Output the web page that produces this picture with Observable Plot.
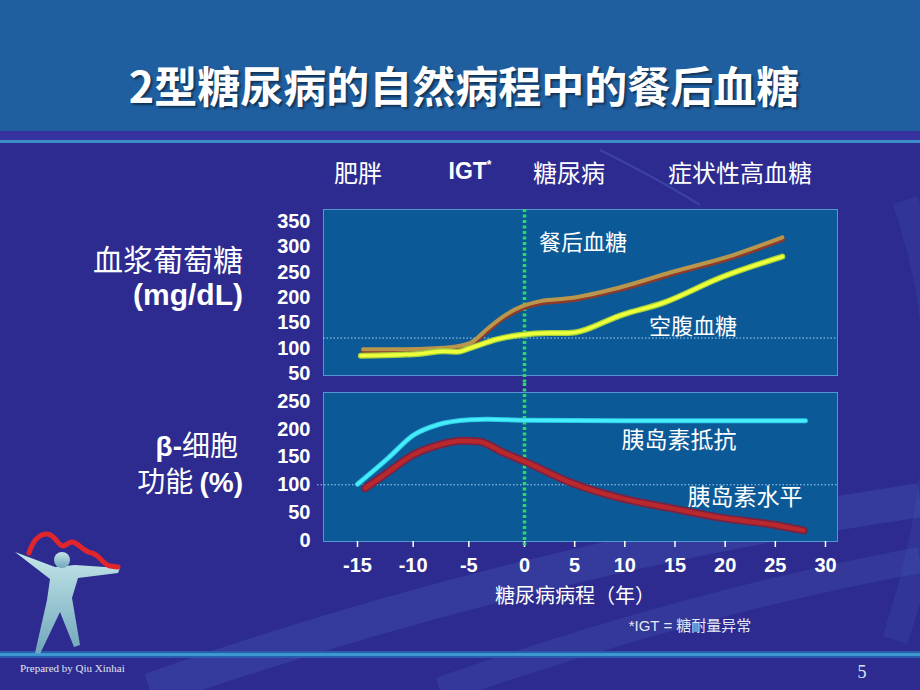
<!DOCTYPE html>
<html><head><meta charset="utf-8">
<script src="https://cdn.jsdelivr.net/npm/d3@7"></script>
<script src="https://cdn.jsdelivr.net/npm/@observablehq/plot@0.6"></script>
<style>
body{margin:0;background:#2d2b8f;}
#slide{position:relative;width:920px;height:690px;overflow:hidden;background:#2d2b8f;font-family:"Noto Sans CJK SC","Noto Sans",sans-serif;color:#fff;}
.abs{position:absolute;white-space:nowrap;line-height:1;}
.plotwrap{position:absolute;left:0;}
</style></head><body><div id="slide"></div>
<script>
// ---------- data ----------
const xTicks = [-15, -10, -5, 0, 5, 10, 15, 20, 25, 30];
const topTicks = [50, 100, 150, 200, 250, 300, 350];
const bottomTicks = [0, 50, 100, 150, 200, 250];
const fastingThreshold = 120;
const betaBaseline = 100;
const diagnosisYear = 0;

// postprandial glucose (mg/dL)
const ppYears  = [-14.5, -11, -8, -6, -4.8, -3.3, -1.9, -0.3, 1.6, 4.6, 9.3, 14.6, 20.8, 25.7];
const ppValues = [97, 97, 99, 103, 110, 138, 162, 181, 192, 198, 218, 249, 283, 318];
// fasting glucose (mg/dL)
const fpYears  = [-14.7, -11, -9.3, -7.3, -6, -4.9, -2.4, -0.4, 2.3, 4.3, 9.9, 13.9, 19.5, 25.7];
const fpValues = [85, 87, 89, 94, 93, 100, 118, 126, 130, 130, 167, 190, 239, 281];
// insulin resistance (%)
const irYears  = [-15, -12.3, -10, -7.8, -4.9, -3.3, 0, 10, 20, 28];
const irValues = [101, 147, 189, 208, 217, 218, 216, 215, 215, 215];
// insulin level (%)
const ilYears  = [-14.3, -12.3, -10, -7.8, -5.5, -4.1, -1.9, 0, 4.6, 9.6, 14.6, 19.5, 24.5, 27.8];
const ilValues = [94, 122, 154, 171, 179, 178, 158, 142, 104, 76, 58, 41, 29, 18];

const stageLabels = ["肥胖", "IGT", "糖尿病", "症状性高血糖"];

// ---------- build ----------
const zip = (xs, ys) => xs.map((x, i) => ({x, y: ys[i]}));
const pp = zip(ppYears, ppValues), fp = zip(fpYears, fpValues);
const ir = zip(irYears, irValues), il = zip(ilYears, ilValues);

const slide = document.getElementById("slide");
const NS = "http://www.w3.org/2000/svg";

// background decorations
const bg = document.createElementNS(NS, "svg");
bg.setAttribute("width", 920); bg.setAttribute("height", 690);
bg.style.position = "absolute"; bg.style.left = "0"; bg.style.top = "0";
bg.innerHTML = `
  <path d="M150,690 Q520,560 920,500" fill="none" stroke="#4a6cc4" stroke-opacity="0.26" stroke-width="34"/>
  <path d="M440,690 Q700,600 920,560" fill="none" stroke="#4a6cc4" stroke-opacity="0.2" stroke-width="26"/>
  <path d="M905,200 Q975,400 895,640" fill="none" stroke="#4a6cc4" stroke-opacity="0.16" stroke-width="26"/>
  <path d="M600,150 Q660,180 700,205" fill="none" stroke="#5a7ad0" stroke-opacity="0.3" stroke-width="2"/>
  <rect x="0" y="0" width="920" height="131" fill="#1f5e9f"/>
  <rect x="0" y="131" width="920" height="9" fill="#3632a0"/>
  <rect x="0" y="140" width="920" height="3" fill="#3b8dc9"/>
  <rect x="0" y="651" width="920" height="7" fill="#2a5cae"/>
  <rect x="0" y="653" width="920" height="3" fill="#3f97cf"/>
  <defs><linearGradient id="fig" x1="0" y1="0" x2="0" y2="1">
    <stop offset="0" stop-color="#c4e6e8"/><stop offset="1" stop-color="#6fa6bb"/></linearGradient></defs>
  <path d="M15,552 L55,567 L75,565 L120,568 L118,573 L78,578 L72,598 L80,645 L74,647 L60,612 L40,654 L35,653 L47,600 L50,579 Z" fill="url(#fig)"/>
  <circle cx="62" cy="560" r="8" fill="url(#fig)"/>
  <path d="M29,553 C33,540 40,534 47,534 C55,534 58,546 63,546 C67,546 68,541 73,542 C80,544 83,552 92,553 C100,555 103,565 110,566 L118,567" fill="none" stroke="#e0262a" stroke-width="5" stroke-linecap="round"/>
`;
slide.appendChild(bg);

const baseStyle = {background: "transparent", color: "#fff", fontFamily: "'Liberation Sans', Arial, sans-serif", fontSize: "20px", fontWeight: "bold", overflow: "visible"};
const xScale = {type: "linear", domain: [-15, diagnosisYear, 30], range: [357, 524, 825]};
const CURVE = "monotone-x";
const greenRule = {stroke: "#2fd86a", strokeWidth: 3.5, strokeDasharray: "3,2.5"};

const topPlot = Plot.plot({
  width: 920, height: 180, marginLeft: 323, marginRight: 83, marginTop: 9, marginBottom: 5,
  style: baseStyle,
  x: {...xScale, axis: null},
  y: {domain: [46, 374], axis: null},
  marks: [
    Plot.frame({fill: "#0b5a97", stroke: "#5596d2", strokeWidth: 1}),
    Plot.axisY(topTicks, {tickSize: 0, tickPadding: 13, label: null, fontWeight: "bold", fontSize: 20}),
    Plot.ruleY([fastingThreshold], {stroke: "#a8d4ff", strokeWidth: 1, strokeDasharray: "1.5,2"}),
    Plot.ruleX([diagnosisYear], {...greenRule, insetBottom: -9}),
    Plot.line(pp, {x: "x", y: "y", stroke: "#8d3a2c", strokeWidth: 5, curve: CURVE, dy: 1.5}),
    Plot.line(pp, {x: "x", y: "y", stroke: "#b9964c", strokeWidth: 4, curve: CURVE, dy: -0.5}),
    Plot.line(fp, {x: "x", y: "y", stroke: "#a6d03a", strokeWidth: 6, curve: CURVE}),
    Plot.line(fp, {x: "x", y: "y", stroke: "#eeff3c", strokeWidth: 3.5, curve: CURVE})
  ]
});

const bottomPlot = Plot.plot({
  width: 920, height: 200, marginLeft: 323, marginRight: 83, marginTop: 7, marginBottom: 44,
  style: baseStyle,
  x: {...xScale, axis: null},
  y: {domain: [-2, 266], axis: null},
  marks: [
    Plot.frame({fill: "#0b5a97", stroke: "#5596d2", strokeWidth: 1}),
    Plot.axisY(bottomTicks, {tickSize: 0, tickPadding: 13, label: null, fontWeight: "bold", fontSize: 20}),
    Plot.axisX(xTicks, {tickSize: 6, tickPadding: 10, label: null, tickFormat: d => String(d), strokeWidth: 1.5, fontWeight: "bold", fontSize: 20}),
    Plot.ruleY([betaBaseline], {stroke: "#a8d4ff", strokeWidth: 1, strokeDasharray: "1.5,2", insetLeft: -6}),
    Plot.ruleX([diagnosisYear], {...greenRule, insetTop: -9, insetBottom: -6}),
    Plot.line(ir, {x: "x", y: "y", stroke: "#2fc8e8", strokeWidth: 5, curve: CURVE}),
    Plot.line(ir, {x: "x", y: "y", stroke: "#46eefa", strokeWidth: 3, curve: CURVE}),
    Plot.line(il, {x: "x", y: "y", stroke: "#7a2242", strokeWidth: 8, curve: CURVE}),
    Plot.line(il, {x: "x", y: "y", stroke: "#b8282c", strokeWidth: 4.5, curve: CURVE})
  ]
});

function place(node, top) {
  const w = document.createElement("div");
  w.className = "plotwrap"; w.style.top = top + "px";
  w.appendChild(node); slide.appendChild(w);
}
place(topPlot, 200);
place(bottomPlot, 385);

function label(text, x, y, {size = 22, weight = "normal", anchor = "middle", family, color = "#fff", shadow} = {}) {
  const d = document.createElement("div");
  d.className = "abs";
  d.innerHTML = text;
  d.style.fontSize = size + "px";
  d.style.fontWeight = weight;
  d.style.color = color;
  if (family) d.style.fontFamily = family;
  if (shadow) d.style.textShadow = shadow;
  const tx = anchor === "middle" ? "-50%" : anchor === "end" ? "-100%" : "0";
  d.style.left = x + "px"; d.style.top = y + "px";
  d.style.transform = `translate(${tx}, -50%)`;
  slide.appendChild(d);
}

const SANS = "'Liberation Sans', Arial, sans-serif";
label("2型糖尿病的自然病程中的餐后血糖", 464, 84, {size: 43, weight: "bold", shadow: "2px 2px 2px rgba(0,0,0,0.45)"});

label(stageLabels[0], 358, 172, {size: 24});
label(`${stageLabels[1]}<sup style="font-size:12px;vertical-align:10px">*</sup>`, 470, 171, {size: 23, weight: "bold", family: SANS});
label(stageLabels[2], 569, 172, {size: 24});
label(stageLabels[3], 740, 172, {size: 24});

label("血浆葡萄糖", 243, 258, {size: 30, anchor: "end"});
label("(mg/dL)", 243, 295, {size: 30, weight: "bold", anchor: "end", family: SANS});
label("<span style=\"font-family:'Liberation Sans',Arial;font-weight:bold\">β-</span>细胞", 238, 445, {size: 28, anchor: "end"});
label("功能 <span style=\"font-family:'Liberation Sans',Arial;font-weight:bold\">(%)</span>", 243, 481, {size: 28, anchor: "end"});

label("餐后血糖", 583, 240, {size: 22});
label("空腹血糖", 693, 324, {size: 22});
label("胰岛素抵抗", 679, 438, {size: 23});
label("胰岛素水平", 745, 495, {size: 23});

label("糖尿病病程（年）", 575, 595, {size: 20});
label("<span style=\"font-family:'Liberation Sans',Arial\">*IGT = </span>糖耐量异常", 690, 625, {size: 15, color: "#e4e8f4"});

label("Prepared by Qiu Xinhai", 20, 668, {size: 11, anchor: "start", family: "'Liberation Serif', serif", color: "#e0e4f0"});
label("5", 862, 672, {size: 18, family: "'Liberation Serif', serif", color: "#d8e4f4"});
</script>
</body></html>
